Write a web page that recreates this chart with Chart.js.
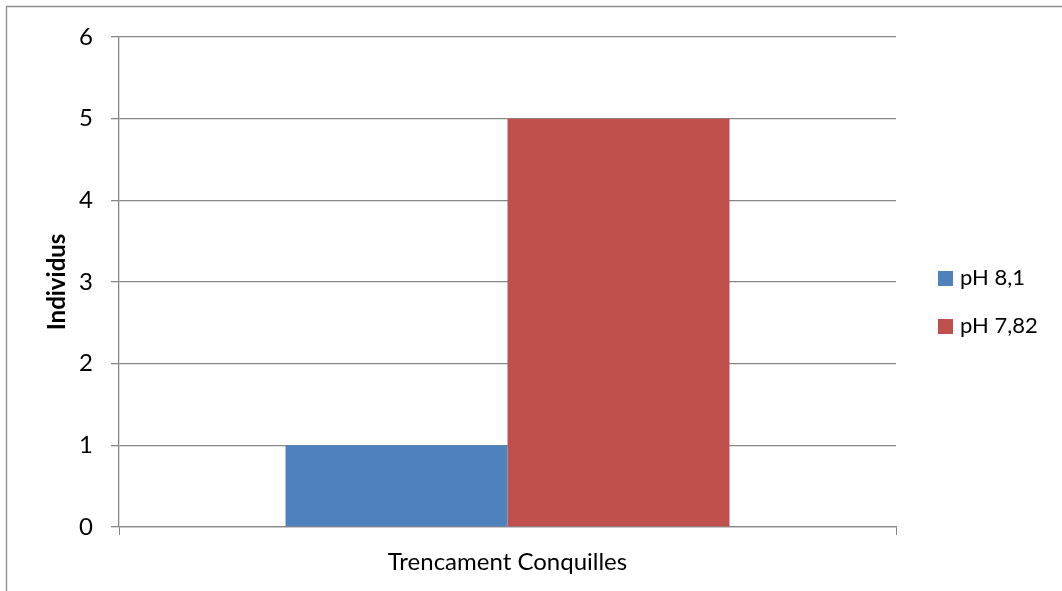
<!DOCTYPE html>
<html>
<head>
<meta charset="utf-8">
<script src="https://cdn.jsdelivr.net/npm/chart.js@4"></script>
<style>
    body { margin: 0; background: #fff; }
    #wrap { position: relative; width: 1062px; height: 591px; overflow: hidden; }
    #llegenda { position: absolute; left: 938px; top: 253px; font-family: Lato, 'Open Sans', sans-serif; font-size: 22px; color: #000; }
    #llegenda div { height: 48px; line-height: 48px; white-space: nowrap; }
    #llegenda span.caixa { display: inline-block; width: 15px; height: 15px; margin-right: 7px; vertical-align: -1px; }
</style>
</head>
<body>
<div id="wrap">
    <canvas id="grafic" width="1062" height="591"></canvas>
    <div id="llegenda"></div>
</div>
<script>
const categories = ['Trencament Conquilles'];
const series = ['pH 8,1', 'pH 7,82'];
const valorsPh81 = [1];
const valorsPh782 = [5];
const colors = ['#4F81BD', '#C0504D'];
const ticksY = [0, 1, 2, 3, 4, 5, 6];

document.addEventListener('DOMContentLoaded', function() {
    const gris = '#878787';
    const font = 'Lato, "Open Sans", sans-serif';

    // marc del gràfic (només es veuen els costats esquerre i superior)
    const marc = {
        id: 'marc',
        beforeDraw(chart) {
            const c = chart.ctx;
            c.save();
            c.strokeStyle = '#8c8c8c';
            c.lineWidth = 1.3;
            c.beginPath();
            c.moveTo(6.5, 700);
            c.lineTo(6.5, 6.5);
            c.lineTo(1200, 6.5);
            c.stroke();
            c.restore();
        }
    };

    const ctx = document.getElementById('grafic').getContext('2d');
    new Chart(ctx, {
        type: 'bar',
        data: {
            labels: categories,
            datasets: [{
                label: series[0],
                data: valorsPh81,
                backgroundColor: colors[0]
            }, {
                label: series[1],
                data: valorsPh782,
                backgroundColor: colors[1]
            }]
        },
        options: {
            responsive: false,
            animation: false,
            layout: {
                padding: { left: 0, top: 37, right: 166, bottom: 0 }
            },
            datasets: {
                bar: {
                    categoryPercentage: 0.5714,
                    barPercentage: 1
                }
            },
            plugins: {
                legend: { display: false },
                tooltip: { enabled: false }
            },
            scales: {
                x: {
                    offset: true,
                    grid: {
                        offset: true,
                        drawOnChartArea: false,
                        drawTicks: true,
                        tickLength: 8,
                        color: gris
                    },
                    border: { color: gris, width: 1.3 },
                    ticks: {
                        color: '#000',
                        padding: 13,
                        font: { family: font, size: 24 }
                    },
                    afterFit: function(scale) {
                        scale.height = 64;
                    }
                },
                y: {
                    min: 0,
                    max: 6,
                    afterBuildTicks: function(scale) {
                        scale.ticks = ticksY.map(v => ({ value: v }));
                    },
                    grid: {
                        color: gris,
                        lineWidth: 1.3,
                        tickLength: 8
                    },
                    border: { color: gris, width: 1.3 },
                    ticks: {
                        color: '#000',
                        padding: 18,
                        font: { family: font, size: 24 }
                    },
                    title: {
                        display: true,
                        text: 'Individus',
                        color: '#000',
                        font: { family: font, size: 24, weight: 'bold' },
                        padding: { top: 43, bottom: 0 }
                    },
                    afterFit: function(scale) {
                        scale.width = 119;
                    }
                }
            }
        },
        plugins: [marc]
    });

    const llegenda = document.getElementById('llegenda');
    series.forEach(function(nom, i) {
        const fila = document.createElement('div');
        const caixa = document.createElement('span');
        caixa.className = 'caixa';
        caixa.style.background = colors[i];
        fila.appendChild(caixa);
        fila.appendChild(document.createTextNode(nom));
        llegenda.appendChild(fila);
    });
});
</script>
</body>
</html>
